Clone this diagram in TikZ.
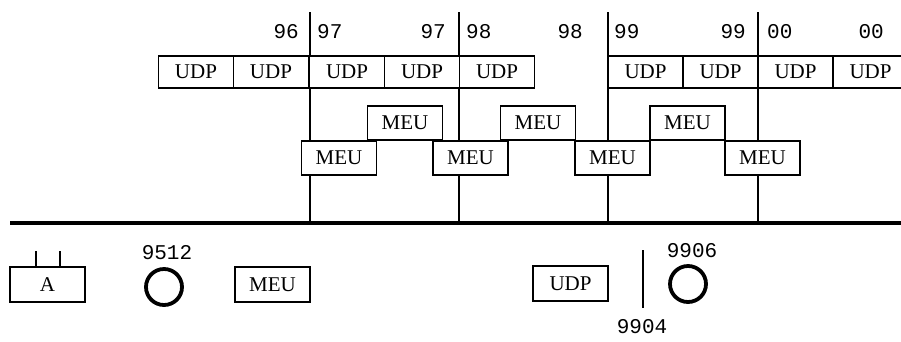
\documentclass[tikz,border=0pt]{standalone}
\usepackage{fontspec}
\setmonofont{Liberation Mono}
\newfontfamily\boxfont{Liberation Serif}
\begin{document}
\begin{tikzpicture}[x=1pt,y=-1pt,
  box/.style={draw, line width=1.4pt, fill=white, minimum width=75pt, minimum height=33pt, inner sep=0pt, font=\boxfont\fontsize{21}{21}\selectfont},
  lbl/.style={font=\ttfamily\fontsize{21}{21}\selectfont, inner sep=0pt},
  rule/.style={line width=1.3pt},
  ring/.style={draw, circle, line width=3.8pt, minimum size=36pt, inner sep=0pt}]
\useasboundingbox (0,0) rectangle (901,341);
% main line
\coordinate (L) at (10,223);
\coordinate (R) at (901,223);
% vertical time lines
\foreach \i/\x in {1/310,2/459,3/608,4/758}{
  \coordinate (t\i) at (\x,12);
  \coordinate (b\i) at (\x,223);
  \draw[rule] (t\i) -- (b\i);
}
\draw[line width=4pt] (L) -- (R);
% top labels
\node[lbl, anchor=east] (l96) at (299,32) {96};
\node[lbl, anchor=west] (l97a) at (317,32) {97};
\node[lbl, anchor=east] (l97b) at (446,32) {97};
\node[lbl, anchor=west] (l98a) at (466,32) {98};
\node[lbl, anchor=east] (l98b) at (583,32) {98};
\node[lbl, anchor=west] (l99a) at (614,32) {99};
\node[lbl, anchor=east] (l99b) at (746,32) {99};
\node[lbl, anchor=west] (l00a) at (767,32) {00};
\node[lbl, anchor=east] (l00b) at (884,32) {00};
% UDP row
\foreach \i/\x in {1/196,2/271,3/347,4/422,5/497,6/645.5,7/720.5,8/795.5,9/870.5}{
  \node[box, minimum height=32pt] (u\i) at (\x,72) {UDP};
}
% MEU rows
\foreach \i/\x in {1/339,2/470.5,3/612.5,4/762.5}{
  \node[box, minimum height=34pt] (m\i) at (\x,158) {MEU};
}
\foreach \i/\x in {1/405,2/538,3/687.5}{
  \node[box, minimum height=34pt] (n\i) at (\x,123) {MEU};
}
% legend
\node[box, minimum height=35pt] (A) at (47.5,284.5) {A};
\coordinate (a1t) at (36,251);
\coordinate (a2t) at (60,251);
\draw[rule] (a1t) -- (a1t |- A.north);
\draw[rule] (a2t) -- (a2t |- A.north);
\node[ring] (c1) at (164,287) {};
\node[lbl] (l9512) at (167,253) {9512};
\node[box, minimum height=35pt] (mk) at (272.5,284.5) {MEU};
\node[box, minimum height=35pt] (uk) at (570.5,283.5) {UDP};
\coordinate (s1) at (643,250);
\coordinate (s2) at (643,308);
\draw[rule] (s1) -- (s2);
\node[lbl] (l9904) at (642,327) {9904};
\node[ring] (c2) at (688,284) {};
\node[lbl] (l9906) at (692,251) {9906};
\end{tikzpicture}
\end{document}
